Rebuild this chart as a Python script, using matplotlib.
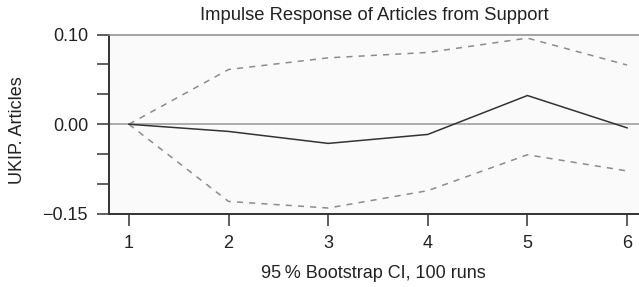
import numpy as np
import matplotlib
matplotlib.use("Agg")
import matplotlib.pyplot as plt

plt.rcParams["font.family"] = ["Liberation Sans", "DejaVu Sans"]

# impulse response
steps = [1, 2, 3, 4, 5, 6]
irf = [0.0, -0.012, -0.032, -0.017, 0.032, -0.006]
upper = [0.0, 0.061, 0.074, 0.080, 0.096, 0.066]
lower = [0.0, -0.129, -0.140, -0.111, -0.051, -0.078]

ytick_vals = [-0.15, 0.00, 0.10]
ytick_labels = ["\u22120.15", "0.00", "0.10"]
yminor_vals = [-0.10, -0.05, 0.10 / 3, 0.20 / 3]

title = "Impulse Response of Articles from Support"
ylabel = "UKIP. Articles"
xlabel = "95\u2009% Bootstrap CI, 100 runs"


# the axis is drawn with 0.10 and -0.15 the same distance from zero
def fwd(y):
    y = np.asarray(y, dtype=float)
    return np.where(y >= 0, y / 0.10, y / 0.15)


def inv(v):
    v = np.asarray(v, dtype=float)
    return np.where(v >= 0, v * 0.10, v * 0.15)


fig = plt.figure(figsize=(6.39, 2.87), dpi=100)
ax = fig.add_axes([109 / 639, 1 - 214 / 287, 530 / 639, 179.5 / 287])
ax.set_facecolor("#fafafa")
ax.set_yscale("function", functions=(fwd, inv))

ax.axhline(0, color="#999999", lw=1.1, zorder=1)
ax.plot(steps, upper, color="#8c8c8c", lw=1.1, ls=(0, (4, 4)), zorder=2)
ax.plot(steps, lower, color="#8c8c8c", lw=1.1, ls=(0, (4, 4)), zorder=2)
ax.plot(steps, irf, color="#333333", lw=1.1, zorder=3)

ax.set_xlim(0.8, 6.12)
ax.set_ylim(-0.15, 0.10)
ax.set_xticks(steps)
ax.set_yticks(ytick_vals)
ax.set_yticklabels(ytick_labels)
ax.set_yticks(yminor_vals, minor=True)

for s in ("left", "bottom"):
    ax.spines[s].set_color("#333333")
    ax.spines[s].set_linewidth(1.4)
ax.spines["top"].set_color("#8c8c8c")
ax.spines["top"].set_linewidth(1.1)
ax.spines["right"].set_visible(False)

ax.tick_params(which="both", length=8.6, width=1.1, color="#333333",
               labelsize=13, labelcolor="#222222", pad=6.5)

fig.text(374 / 639, 1 - 15 / 287, title, fontsize=13.2, color="#222222",
         ha="center", va="center")
fig.text(373 / 639, 1 - 273 / 287, xlabel, fontsize=13, color="#222222",
         ha="center", va="center")
fig.text(18 / 639, 1 - 130 / 287, ylabel, fontsize=13, color="#222222",
         ha="center", va="center", rotation=90)

fig.savefig("out.png", dpi=100)
